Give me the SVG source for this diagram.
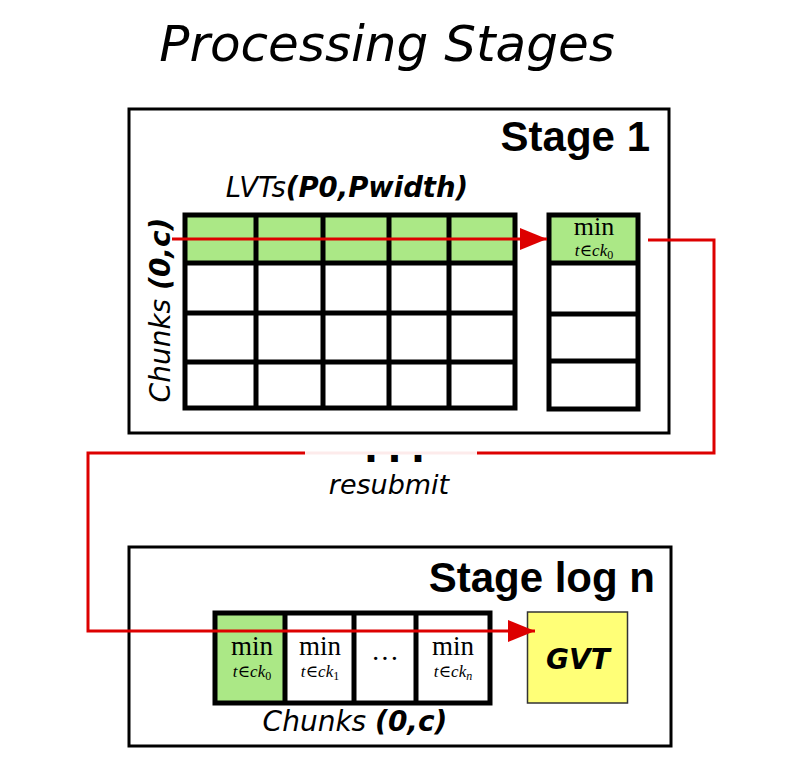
<svg xmlns="http://www.w3.org/2000/svg" width="800" height="779" viewBox="0 0 800 779">
<defs>
<style>
.box{fill:#fff;stroke:#000;stroke-width:3}
.grid{fill:none;stroke:#000;stroke-width:5}
.green{fill:#abe886}
.ital{font-family:"DejaVu Sans",sans-serif;font-style:italic}
.stage{font-family:"Liberation Sans",Arial,sans-serif;font-weight:bold;font-size:42px;text-anchor:end}
.min{font-family:"Liberation Serif","DejaVu Serif",serif;text-anchor:middle}
.sub{font-size:17px;font-style:italic}
.idx{font-size:12px;font-style:normal}
.idxi{font-size:12px;font-style:italic}
.red{fill:none;stroke:#dd0000;stroke-width:3}
</style>
<marker id="ah2" viewBox="0 0 10 10" refX="10" refY="5" markerWidth="27" markerHeight="22" markerUnits="userSpaceOnUse" orient="auto" preserveAspectRatio="none">
<path d="M0,0 L10,5 L0,10 Z" fill="#dd0000"/>
</marker>
</defs>
<rect width="800" height="779" fill="#fff"/>
<text x="387" y="61" class="ital" font-size="50" text-anchor="middle">Processing Stages</text>

<g id="stage1">
<rect class="box" x="129" y="109" width="540" height="324"/>
<text x="650" y="151" class="stage">Stage 1</text>
<text x="347" y="197" class="ital" font-size="27.5" text-anchor="middle">LVTs<tspan font-weight="bold">(P0,Pwidth)</tspan></text>
<text transform="translate(170,310) rotate(-90)" class="ital" font-size="28" text-anchor="middle">Chunks <tspan font-weight="bold">(0,c)</tspan></text>
</g>

<g id="lvt-grid">
<rect class="green" x="185" y="215" width="330" height="48"/>
<rect class="grid" x="185" y="215" width="330" height="193"/>
<path class="grid" d="M185,263H515M185,313H515M185,362H515M256,215V408M323,215V408M389,215V408M449,215V408"/>
</g>

<g id="min-column">
<rect class="green" x="549" y="215" width="89" height="48"/>
<rect class="grid" x="549" y="215" width="89" height="194"/>
<path class="grid" d="M549,263H638M549,314H638M549,361H638"/>
<text x="594" y="235" class="min" font-size="26">min</text>
<text x="594" y="256" class="min sub">t∈ck<tspan class="idx" dy="3">0</tspan></text>
</g>

<g id="stage-log-n">
<rect class="box" x="129" y="547" width="542" height="199"/>
<text x="655" y="592" class="stage">Stage log n</text>
<text x="355" y="731" class="ital" font-size="28" text-anchor="middle">Chunks <tspan font-weight="bold">(0,c)</tspan></text>
</g>

<g id="chunk-row">
<rect class="green" x="215" y="613" width="70" height="90"/>
<rect class="grid" x="215" y="613" width="275" height="90"/>
<path class="grid" d="M285,613V703M354,613V703M416,613V703"/>
<text x="252" y="655" class="min" font-size="27">min</text>
<text x="252" y="677" class="min sub">t∈ck<tspan class="idx" dy="3">0</tspan></text>
<text x="320" y="655" class="min" font-size="27">min</text>
<text x="320" y="677" class="min sub">t∈ck<tspan class="idx" dy="3">1</tspan></text>
<text x="385" y="668" class="min" font-size="28">···</text>
<text x="453" y="655" class="min" font-size="27">min</text>
<text x="453" y="677" class="min sub">t∈ck<tspan class="idxi" dy="3">n</tspan></text>
</g>

<g id="gvt">
<rect x="527.5" y="612" width="100" height="91" fill="#ffff77" stroke="#333" stroke-width="1.5"/>
<text x="578" y="669" font-family="'DejaVu Sans',sans-serif" font-weight="bold" font-style="italic" font-size="28" text-anchor="middle">GVT</text>
</g>

<g id="connectors">
<path class="red" d="M172,239H547" marker-end="url(#ah2)"/>
<path class="red" d="M648,240H714V453H88V631H535" marker-end="url(#ah2)"/>
</g>

<g id="resubmit">
<rect x="305" y="447" width="172" height="53" fill="#fff" fill-opacity="0.92"/>
<text x="399" y="462" font-family="'DejaVu Sans',sans-serif" font-weight="bold" font-size="38" letter-spacing="9" text-anchor="middle">...</text>
<text x="389" y="494" class="ital" font-size="27" text-anchor="middle">resubmit</text>
</g>
</svg>
